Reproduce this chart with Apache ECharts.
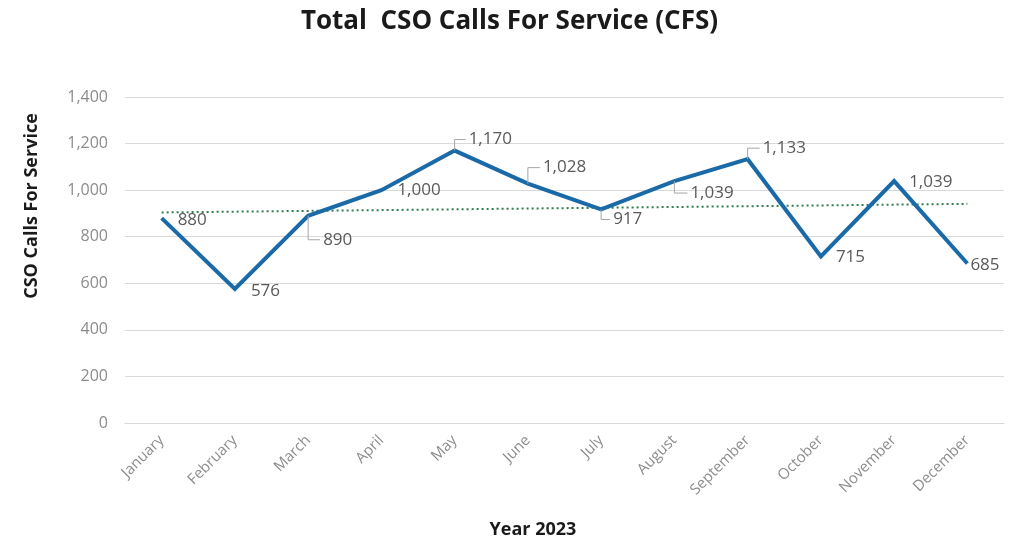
<!DOCTYPE html>
<html>
<head>
<meta charset="utf-8">
<script src="https://cdn.jsdelivr.net/npm/echarts@6/dist/echarts.min.js"></script>
<style>
  html, body { margin: 0; padding: 0; background: #fff; }
  #chart { width: 1019px; height: 541px; }
</style>
</head>
<body>
<div id="chart"></div>
<script>
// Monthly CSO calls for service, 2023
const months = ['January', 'February', 'March', 'April', 'May', 'June',
                'July', 'August', 'September', 'October', 'November', 'December'];
const calls = [880, 576, 890, 1000, 1170, 1028, 917, 1039, 1133, 715, 1039, 685];
const yTicks = [0, 200, 400, 600, 800, 1000, 1200, 1400];

// Label placement per month: offset of the label's left-middle from the point, and
// whether an elbow leader joins them
const labelPlacement = [
  { dx: 16, dy: 2, leader: false },
  { dx: 16, dy: 2, leader: false },
  { dx: 15, dy: 24, leader: true },
  { dx: 16, dy: 0, leader: false },
  { dx: 14, dy: -11, leader: true },
  { dx: 15, dy: -16, leader: true },
  { dx: 12, dy: 10, leader: true },
  { dx: 16, dy: 12, leader: true },
  { dx: 15, dy: -11, leader: true },
  { dx: 15, dy: 1, leader: false },
  { dx: 15, dy: 1, leader: false },
  { dx: 3, dy: 2, leader: false }
];

// Linear trendline (least squares over month index)
function linearTrend(ys) {
  const n = ys.length;
  const mx = (n - 1) / 2;
  const my = ys.reduce((a, b) => a + b, 0) / n;
  let sxy = 0, sxx = 0;
  ys.forEach((y, i) => { sxy += (i - mx) * (y - my); sxx += (i - mx) * (i - mx); });
  const slope = sxy / sxx;
  return ys.map((_, i) => my + slope * (i - mx));
}
const trend = linearTrend(calls);

const fmt = v => v.toLocaleString('en-US');
const FONT = '"Open Sans", "Noto Sans", sans-serif';

const chart = echarts.init(document.getElementById('chart'), null, { renderer: 'canvas' });

chart.setOption({
  animation: false,
  backgroundColor: '#ffffff',
  title: {
    text: 'Total  CSO Calls For Service (CFS)',
    left: 'center',
    top: 4,
    textStyle: { fontFamily: FONT, fontSize: 26, fontWeight: 'bold', color: '#1a1a1a' }
  },
  graphic: [
    {
      type: 'text', x: 32, y: 206, rotation: Math.PI / 2,
      style: { text: 'CSO Calls For Service', align: 'center', verticalAlign: 'middle',
               font: 'bold 18px ' + FONT, fill: '#1a1a1a' }
    },
    {
      type: 'text', x: 533, y: 530,
      style: { text: 'Year 2023', align: 'center', verticalAlign: 'middle',
               font: 'bold 18px ' + FONT, fill: '#1a1a1a' }
    }
  ],
  grid: { left: 125, right: 15, top: 97, bottom: 118, containLabel: false },
  xAxis: {
    type: 'category',
    data: months,
    boundaryGap: true,
    axisLine: { show: true, lineStyle: { color: '#d9d9d9', width: 1 } },
    axisTick: { show: false },
    axisLabel: { rotate: 45, margin: 15, color: '#8c8c8c', fontFamily: FONT, fontSize: 15 }
  },
  yAxis: {
    type: 'value',
    min: yTicks[0],
    max: yTicks[yTicks.length - 1],
    interval: yTicks[1] - yTicks[0],
    axisLine: { show: false },
    axisTick: { show: false },
    axisLabel: { margin: 17, color: '#8c8c8c', fontFamily: FONT, fontSize: 16,
                 formatter: v => fmt(v) },
    splitLine: { lineStyle: { color: '#d9d9d9', width: 1 } }
  },
  series: [
    {
      name: 'Trend',
      type: 'line',
      data: trend,
      symbol: 'none',
      lineStyle: { color: '#2f7d4e', width: 2, type: [2, 3] },
      z: 2
    },
    {
      name: 'CSO Calls',
      type: 'line',
      data: calls,
      symbol: 'none',
      lineStyle: { color: '#1b6aa8', width: 4, join: 'miter' },
      z: 3
    },
    {
      name: 'Labels',
      type: 'custom',
      coordinateSystem: 'cartesian2d',
      data: calls.map((v, i) => [i, v]),
      encode: { x: 0, y: 1 },
      z: 4,
      renderItem: function (params, api) {
        const idx = params.dataIndex;
        const v = api.value(1);
        const p = api.coord([api.value(0), v]);
        const pl = labelPlacement[idx];
        const children = [];
        if (pl.leader) {
          children.push({
            type: 'polyline',
            shape: { points: [[p[0], p[1]], [p[0], p[1] + pl.dy], [p[0] + pl.dx - 3, p[1] + pl.dy]] },
            style: { stroke: '#a6a6a6', lineWidth: 1, fill: null }
          });
        }
        children.push({
          type: 'text',
          style: { text: fmt(v), x: p[0] + pl.dx, y: p[1] + pl.dy, align: 'left', verticalAlign: 'middle',
                   font: '17px ' + FONT, fill: '#595959' }
        });
        return { type: 'group', children: children };
      }
    }
  ]
});
</script>
</body>
</html>
